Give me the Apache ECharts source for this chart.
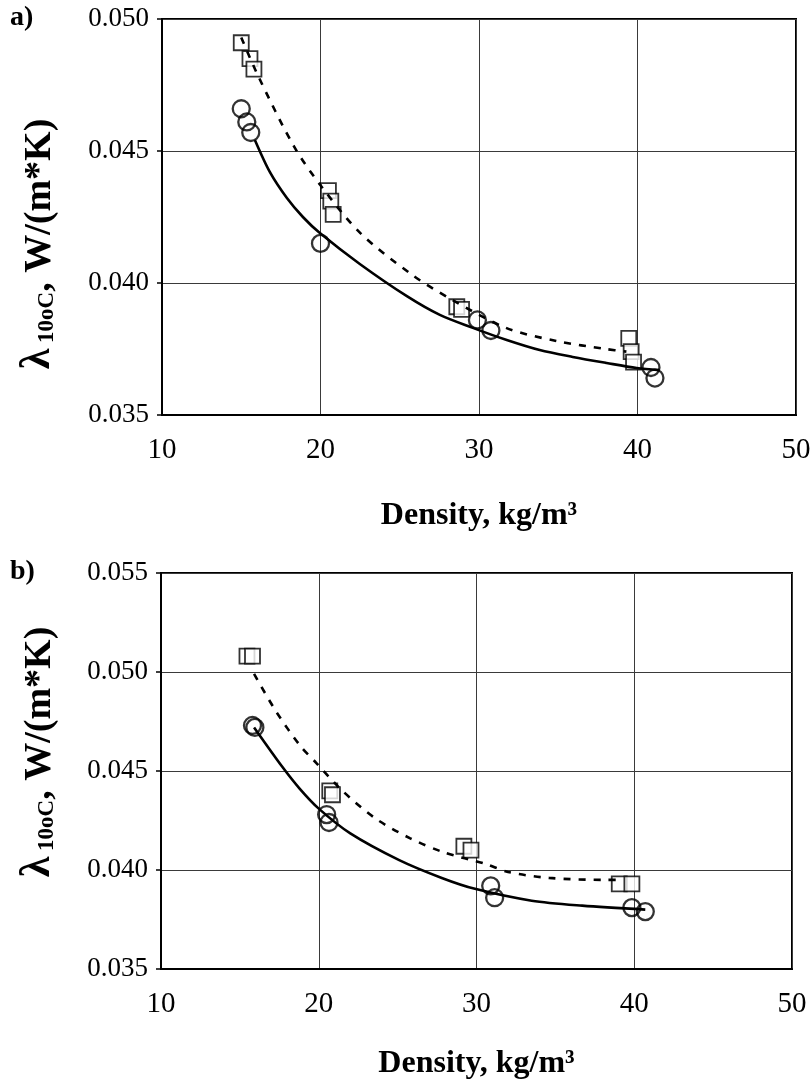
<!DOCTYPE html>
<html>
<head>
<meta charset="utf-8">
<script src="https://cdn.jsdelivr.net/npm/echarts@6/dist/echarts.min.js"></script>
<style>
html,body{margin:0;padding:0;background:#fff;}
#chart{width:810px;height:1079px;}
</style>
</head>
<body>
<div id="chart"></div>
<script>
// ---------- data ----------
const xTicks = [10, 20, 30, 40, 50];
const yTicksA = [0.035, 0.040, 0.045, 0.050];
const yTicksB = [0.035, 0.040, 0.045, 0.050, 0.055];

// panel a) squares
const aSqX = [15.0, 15.55, 15.8, 20.5, 20.65, 20.8, 28.6, 28.9, 39.45, 39.6, 39.75];
const aSqY = [0.0491, 0.0485, 0.0481, 0.0435, 0.0431, 0.0426, 0.0391, 0.0390, 0.0379, 0.0374, 0.0370];
// panel a) circles
const aCirX = [15.0, 15.35, 15.6, 20.0, 29.9, 30.75, 40.85, 41.1];
const aCirY = [0.0466, 0.0461, 0.0457, 0.0415, 0.0386, 0.0382, 0.0368, 0.0364];
// panel a) solid trend line (read along the drawn curve)
const aSolidX = [15.86, 16.81, 17.88, 18.89, 19.96, 22.48, 25.45, 27.53, 29.61, 31.75, 33.83, 35.91, 38.05, 39.95, 41.40];
const aSolidY = [0.04542, 0.04420, 0.04322, 0.04250, 0.04189, 0.04072, 0.03950, 0.03879, 0.03830, 0.03784, 0.03746, 0.03720, 0.03697, 0.03678, 0.03670];
// panel a) dashed trend line
const aDashX = [15.0, 16.1, 18.3, 20.0, 22.5, 25.8, 28.2, 31.7, 34.9, 38.0, 39.3];
const aDashY = [0.0493, 0.0478, 0.0452, 0.0437, 0.0419, 0.0403, 0.0394, 0.0383, 0.0378, 0.0375, 0.0374];

// panel b) squares
const bSqX = [15.45, 15.8, 20.7, 20.87, 29.2, 29.65, 39.05, 39.85];
const bSqY = [0.0508, 0.0508, 0.0440, 0.0438, 0.0412, 0.0410, 0.0393, 0.0393];
// panel b) circles
const bCirX = [15.8, 15.95, 20.5, 20.65, 30.9, 31.15, 39.85, 40.7];
const bCirY = [0.0473, 0.0472, 0.0428, 0.0424, 0.0392, 0.0386, 0.0381, 0.0379];
// panel b) solid trend line
const bSolidX = [15.9, 17.7, 18.8, 20.0, 22.0, 25.1, 27.8, 29.9, 33.5, 36.7, 40.7];
const bSolidY = [0.0472, 0.0452, 0.0441, 0.0431, 0.04185, 0.0405, 0.0396, 0.03905, 0.03845, 0.0382, 0.0380];
// panel b) dashed trend line
const bDashX = [15.9, 17.3, 18.8, 19.85, 21.5, 23.6, 25.8, 27.9, 30.6, 32.0, 34.6, 38.2, 39.1];
const bDashY = [0.0499, 0.0480, 0.0463, 0.0454, 0.0440, 0.0426, 0.0416, 0.0409, 0.0403, 0.0399, 0.0396, 0.0395, 0.0395];

const xTitle = 'Density, kg/m\u00B3';
const yTitleParts = ['\u03BB', '10oC', ', W/(m*K)'];
const panelLabels = ['a)', 'b)'];

// ---------- helpers ----------
const zip = (xs, ys) => xs.map((x, i) => [x, ys[i]]);
const SERIF = '"Liberation Serif","Times New Roman",serif';

function xAxisCfg(gridIndex, gap) {
  return {
    type: 'value', gridIndex, min: xTicks[0], max: xTicks[xTicks.length - 1], interval: 10,
    axisLine: {show: true, lineStyle: {color: '#000', width: 2}},
    axisTick: {show: false},
    splitLine: {show: true, lineStyle: {color: '#3a3a3a', width: 1}},
    axisLabel: {color: '#000', fontFamily: SERIF, fontSize: 29, margin: 21},
    name: xTitle, nameLocation: 'middle', nameGap: gap,
    nameTextStyle: {color: '#000', fontFamily: SERIF, fontSize: 32, fontWeight: 'bold'}
  };
}
function yAxisCfg(gridIndex, ticks) {
  return {
    type: 'value', gridIndex, min: ticks[0], max: ticks[ticks.length - 1], interval: 0.005,
    axisLine: {show: true, lineStyle: {color: '#000', width: 2}},
    axisTick: {show: true, length: 5, inside: false, lineStyle: {color: '#000', width: 1.5}},
    splitLine: {show: true, lineStyle: {color: '#3a3a3a', width: 1}},
    axisLabel: {color: '#000', fontFamily: SERIF, fontSize: 27, margin: 13,
      formatter: v => v.toFixed(3)}
  };
}
function yTitle(cx, cy) {
  return {
    type: 'text', x: cx, y: cy, rotation: Math.PI / 2,
    style: {
      text: '{l|' + yTitleParts[0] + '}{s| ' + yTitleParts[1] + '}{t|' + yTitleParts[2] + '}',
      align: 'center', verticalAlign: 'middle', fill: '#000',
      rich: {
        l: {fontFamily: SERIF, fontSize: 42, fontWeight: 'bold', fill: '#000', verticalAlign: 'bottom', lineHeight: 42},
        s: {fontFamily: SERIF, fontSize: 23, fontWeight: 'bold', fill: '#000', verticalAlign: 'bottom', lineHeight: 27},
        t: {fontFamily: SERIF, fontSize: 38, fontWeight: 'bold', fill: '#000', verticalAlign: 'bottom', lineHeight: 42}
      }
    }
  };
}
function sqSeries(xi, yi, xs, ys) {
  return {type: 'scatter', xAxisIndex: xi, yAxisIndex: yi, data: zip(xs, ys),
    symbol: 'rect', symbolSize: 15, z: 3,
    itemStyle: {color: '#fff', borderColor: '#000', borderWidth: 1.8}, silent: true};
}
function cirSeries(xi, yi, xs, ys) {
  return {type: 'scatter', xAxisIndex: xi, yAxisIndex: yi, data: zip(xs, ys),
    symbol: 'circle', symbolSize: 17, z: 3,
    itemStyle: {color: 'rgba(255,255,255,0)', borderColor: '#000', borderWidth: 2.3}, silent: true};
}
function lineSeries(xi, yi, xs, ys, dashed) {
  return {type: 'line', xAxisIndex: xi, yAxisIndex: yi, data: zip(xs, ys),
    smooth: 0.3, showSymbol: false, symbol: 'none', z: 4, silent: true,
    lineStyle: {color: '#000', width: 2.6, type: dashed ? [7, 8] : 'solid'}};
}

const chart = echarts.init(document.getElementById('chart'), null, {renderer: 'canvas'});
chart.setOption({
  backgroundColor: '#fff',
  animation: false,
  grid: [
    {left: 162, top: 19, width: 634, height: 396, show: true, borderColor: '#000', borderWidth: 2,
     backgroundColor: '#fff', containLabel: false, outerBoundsMode: 'none'},
    {left: 161, top: 573, width: 631, height: 396, show: true, borderColor: '#000', borderWidth: 2,
     backgroundColor: '#fff', containLabel: false, outerBoundsMode: 'none'}
  ],
  xAxis: [xAxisCfg(0, 85), xAxisCfg(1, 79)],
  yAxis: [yAxisCfg(0, yTicksA), yAxisCfg(1, yTicksB)],
  graphic: [
    {type: 'text', left: 10, top: 4, style: {text: panelLabels[0], fontFamily: SERIF, fontSize: 28, fontWeight: 'bold', fill: '#000'}},
    {type: 'text', left: 10, top: 558, style: {text: panelLabels[1], fontFamily: SERIF, fontSize: 28, fontWeight: 'bold', fill: '#000'}},
    yTitle(38, 244),
    yTitle(38, 752)
  ],
  series: [
    sqSeries(0, 0, aSqX, aSqY),
    cirSeries(0, 0, aCirX, aCirY),
    lineSeries(0, 0, aSolidX, aSolidY, false),
    lineSeries(0, 0, aDashX, aDashY, true),
    sqSeries(1, 1, bSqX, bSqY),
    cirSeries(1, 1, bCirX, bCirY),
    lineSeries(1, 1, bSolidX, bSolidY, false),
    lineSeries(1, 1, bDashX, bDashY, true)
  ]
});
</script>
</body>
</html>
